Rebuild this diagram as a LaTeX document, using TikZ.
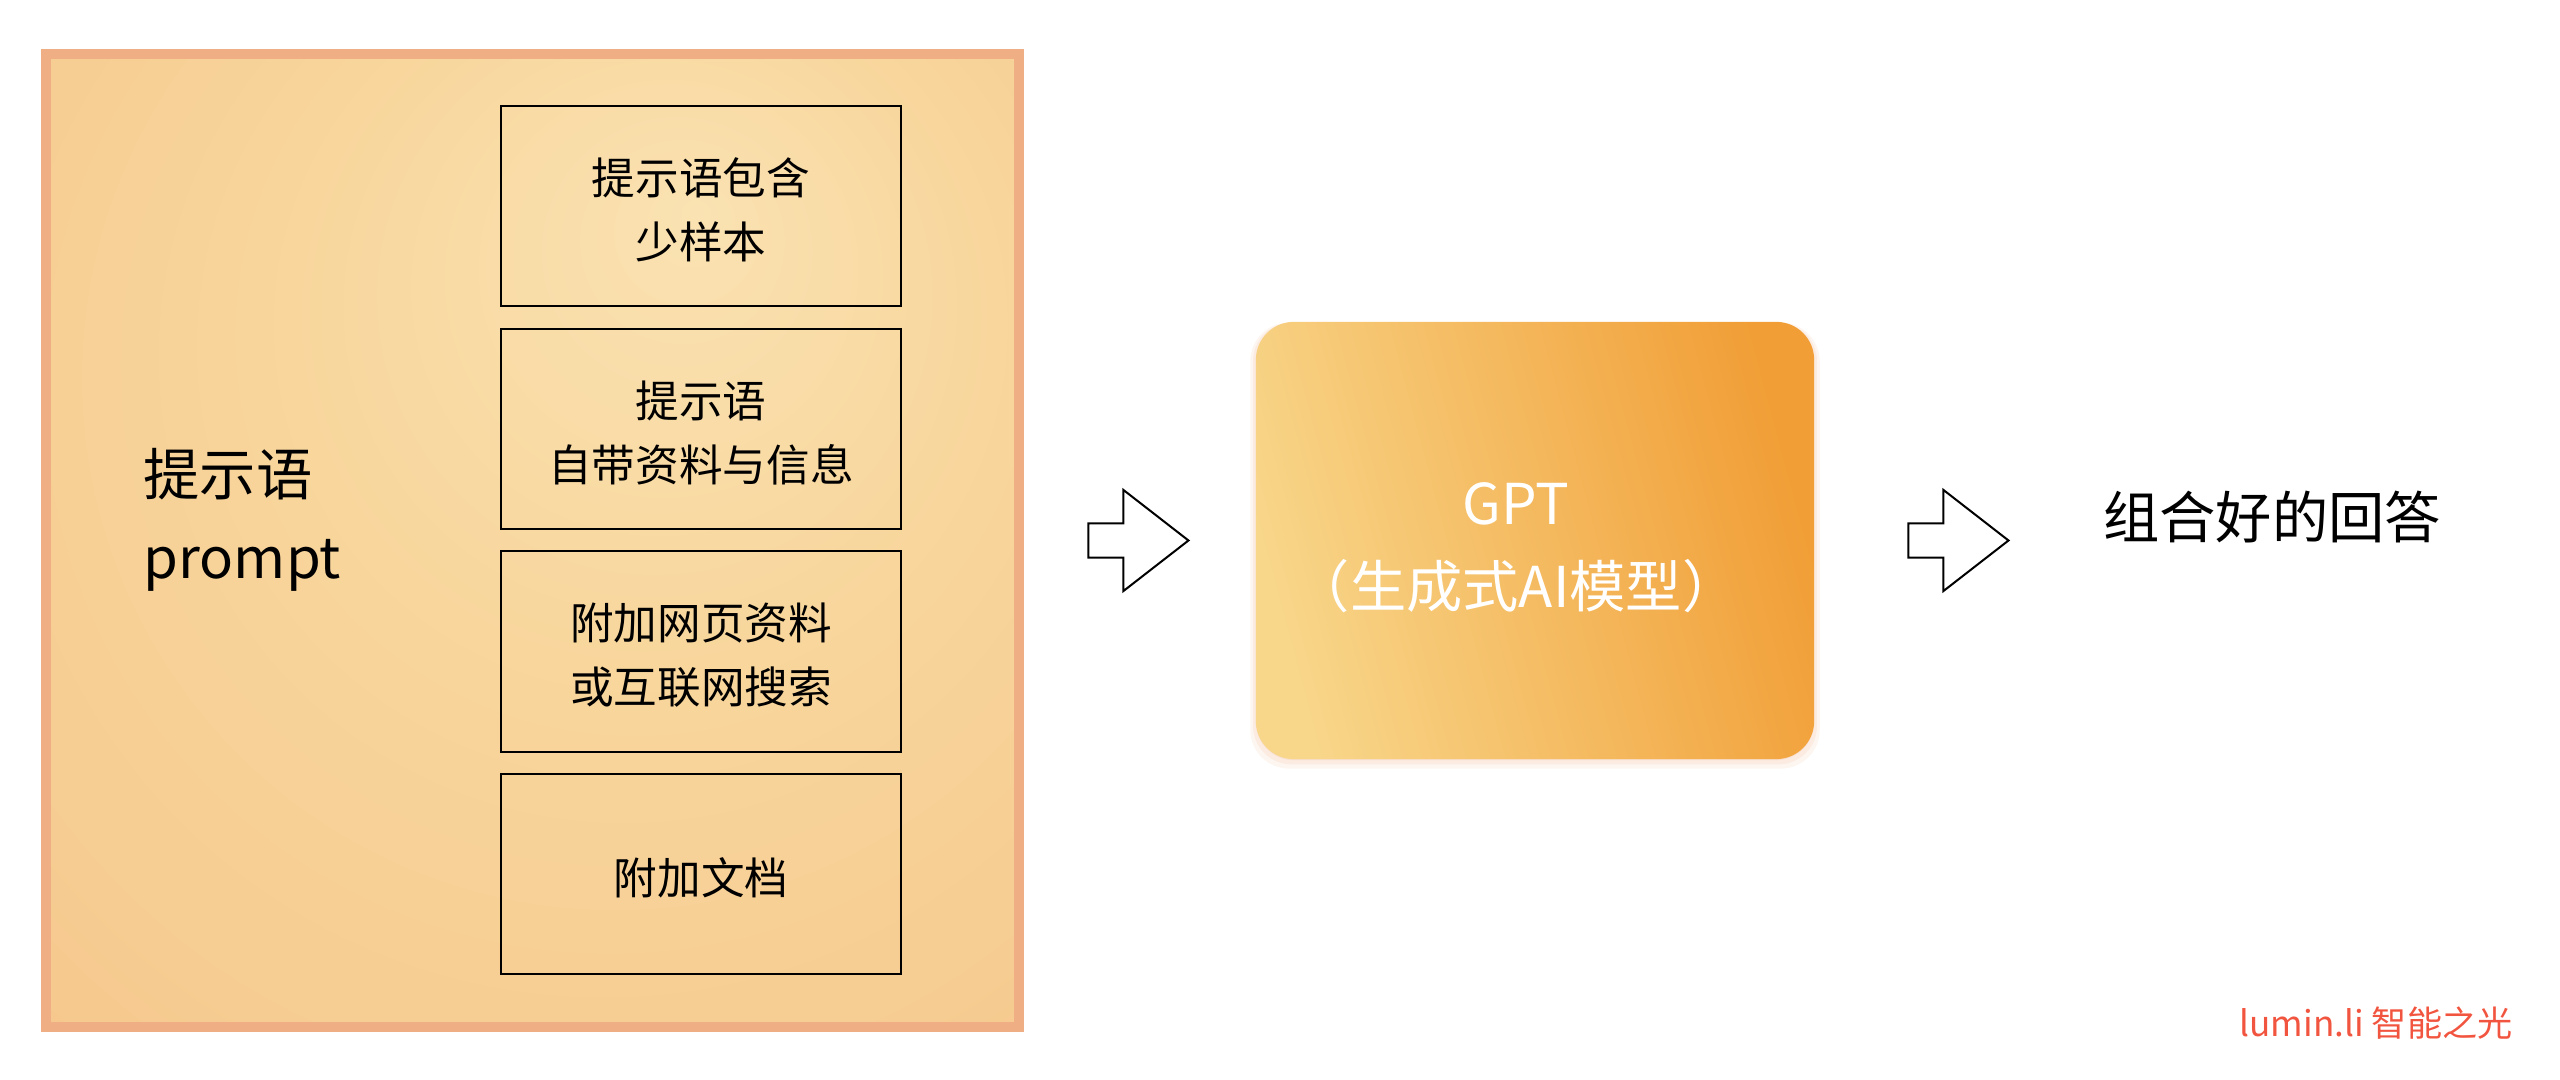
\documentclass[tikz,border=0pt]{standalone}
\usepackage{fontspec}
\setmainfont{Noto Sans CJK SC}
\usetikzlibrary{shapes.arrows, shadows, positioning}

\definecolor{frameone}{HTML}{FAE2B2}
\definecolor{frametwo}{HTML}{F8D69C}
\definecolor{framethree}{HTML}{F6CC92}
\definecolor{framefour}{HTML}{F6C488}
\definecolor{framefive}{HTML}{F5BD82}
\definecolor{frameline}{HTML}{EFAE83}
\definecolor{gptlight}{HTML}{F8D68A}
\definecolor{gptdark}{HTML}{F19E36}
\definecolor{marktext}{HTML}{F2553F}
\pgfdeclareradialshading{framefill}{\pgfpoint{8.5bp}{17bp}}{%
  color(0bp)=(frameone);
  color(18bp)=(frametwo);
  color(35bp)=(framethree);
  color(45bp)=(framefour);
  color(54bp)=(framefive)}
\newcommand{\topgap}{\rule{0pt}{12.7pt}}

\begin{document}
\begin{tikzpicture}[x=0.01cm, y=-0.01cm, node distance=0.206cm, >=stealth]
    % Styles
    \tikzstyle{frame} = [rectangle, draw=frameline, line width=0.1cm, shading=framefill, minimum width=9.73cm, minimum height=9.73cm]
    \tikzstyle{block} = [rectangle, draw, line width=0.02cm, align=center, minimum width=4cm, minimum height=2cm, inner sep=0pt, font=\fontsize{12.4pt}{18.2pt}\selectfont]
    \tikzstyle{bigtext} = [inner sep=0pt, font=\fontsize{16pt}{23.6pt}\selectfont]
    \tikzstyle{model} = [rectangle, rounded corners=0.38cm, left color=gptlight, right color=gptdark, shading angle=105, minimum width=5.58cm, minimum height=4.37cm,
      drop shadow={shadow scale=1.02, shadow xshift=0cm, shadow yshift=-0.05cm, fill=frameline, opacity=0.12},
      drop shadow={shadow scale=1.01, shadow xshift=0cm, shadow yshift=-0.03cm, fill=frameline, opacity=0.15},
      drop shadow={shadow xshift=0cm, shadow yshift=-0.01cm, fill=frameline, opacity=0.2}]
    \tikzstyle{bigarrow} = [single arrow, draw, fill=white, line width=0.02cm, inner xsep=0pt, inner ysep=0.16cm, minimum height=1cm, single arrow head extend=0.335cm, single arrow tip angle=75.7]

    \useasboundingbox (0,0) rectangle (2560,1080);

    % Nodes
    \node[frame] (prompt) at (532.5,540.5) {};
    \node[bigtext, align=left, anchor=west] (promptlabel) at (143,520) {提示语\\prompt};
    \node[block] (sample) at (701,206) {\topgap 提示语包含\\少样本};
    \node[block, below=of sample] (own) {\topgap 提示语\\自带资料与信息};
    \node[block, below=of own] (web) {\topgap 附加网页资料\\或互联网搜索};
    \node[block, below=of web] (doc) {\topgap 附加文档};

    \node[model] (gpt) at (1535,540.5) {};
    \node[bigtext, align=center, text=white] (gptlabel) at (1516,548) {GPT\\（生成式AI模型）};
    \node[bigarrow, left=0.65cm of gpt] (inarrow) {};
    \node[bigarrow, right=0.925cm of gpt] (outarrow) {};
    \node[bigtext] (answer) at (2272,517) {组合好的回答};
    \node[inner sep=0pt, text=marktext, font=\fontsize{10pt}{12pt}\selectfont] (mark) at (2376,1023) {lumin.li 智能之光};
  \end{tikzpicture}
\end{document}
